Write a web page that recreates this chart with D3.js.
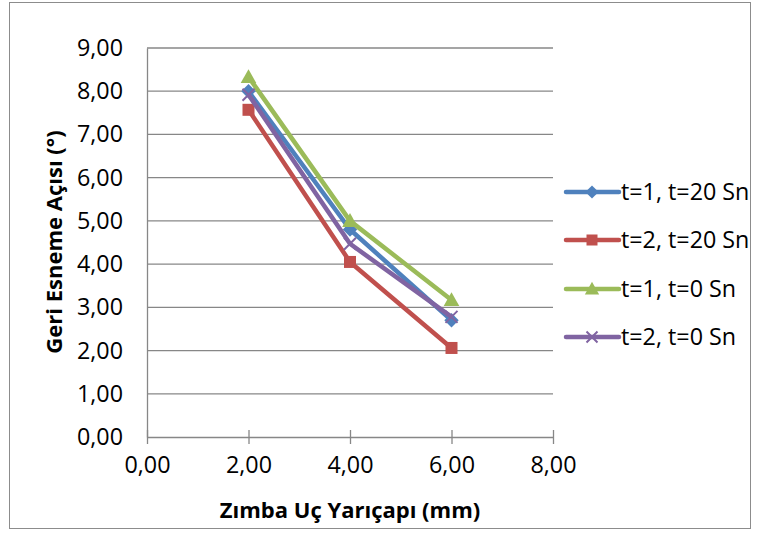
<!DOCTYPE html>
<html>
<head>
<meta charset="utf-8">
<script src="https://cdn.jsdelivr.net/npm/d3@7/dist/d3.min.js"></script>
<style>
  body { margin: 0; background: #fff; }
  svg { display: block; }
  svg text { font-family: "Open Sans", Lato, sans-serif; }
</style>
</head>
<body>
<svg id="chart" width="760" height="534"></svg>
<script>
// Punch tip radius (mm) and springback angle (°) per test condition
const radii = [2, 4, 6];
const seriesNames = ["t=1, t=20 Sn", "t=2, t=20 Sn", "t=1, t=0 Sn", "t=2, t=0 Sn"];
const s1 = [8.00, 4.80, 2.70];
const s2 = [7.57, 4.05, 2.06];
const s3 = [8.33, 5.00, 3.17];
const s4 = [7.92, 4.47, 2.78];
const xTicks = [0, 2, 4, 6, 8];
const yTicks = [0, 1, 2, 3, 4, 5, 6, 7, 8, 9];

const colors = ["#4F81BD", "#C0504D", "#9BBB59", "#8064A2"];
const markers = ["diamond", "square", "triangle", "cross"];
const seriesValues = [s1, s2, s3, s4];

const svg = d3.select("#chart");
const fmt = v => d3.format(".2f")(v).replace(".", ",");
const FS = 23.3;
const TS = 22;

// Chart frame
svg.append("rect").attr("x", 9.5).attr("y", 2.5).attr("width", 741).attr("height", 526)
  .attr("fill", "#fff").attr("stroke", "#8c8c8c").attr("stroke-width", 1);

const x = d3.scaleLinear().domain([0, 8]).range([147, 553]);
const y = d3.scaleLinear().domain([0, 9]).range([437, 48]);

// Horizontal gridlines
svg.append("g").selectAll("line").data(yTicks.filter(d => d > 0)).join("line")
  .attr("x1", x(0)).attr("x2", x(8))
  .attr("y1", d => y(d)).attr("y2", d => y(d))
  .attr("stroke", "#878787").attr("stroke-width", 1.3);

// Y axis
const yAxis = d3.axisLeft(y).tickValues(yTicks).tickFormat(fmt).tickSize(0).tickPadding(24);
const gy = svg.append("g").attr("transform", `translate(${x(0)},0)`).call(yAxis)
  .attr("font-family", null).attr("font-size", null);
gy.select(".domain").attr("stroke", "#878787").attr("stroke-width", 1.3);
gy.selectAll("text").attr("font-size", FS).attr("fill", "#000");

// X axis
const xAxis = d3.axisBottom(x).tickValues(xTicks).tickFormat(fmt).tickSize(7).tickSizeOuter(0).tickPadding(12);
const gx = svg.append("g").attr("transform", `translate(0,${y(0)})`).call(xAxis)
  .attr("font-family", null).attr("font-size", null);
gx.select(".domain").attr("stroke", "#878787").attr("stroke-width", 1.3);
gx.selectAll(".tick line").attr("stroke", "#878787").attr("stroke-width", 1.3)
  .attr("y1", -7).attr("y2", 7);
gx.selectAll("text").attr("font-size", FS).attr("fill", "#000");

// Axis titles
svg.append("text").attr("x", 350).attr("y", 518).attr("text-anchor", "middle")
  .attr("font-size", TS).attr("font-weight", "bold").text("Zımba Uç Yarıçapı (mm)");
svg.append("text").attr("transform", "translate(62,242) rotate(-90)").attr("text-anchor", "middle")
  .attr("font-size", TS).attr("font-weight", "bold").text("Geri Esneme Açısı (°)");

// Marker shapes
function drawMarker(g, type, cx, cy, color, size) {
  const s = size;
  if (type === "diamond") {
    g.append("path").attr("d", `M${cx},${cy - s * 0.6}L${cx + s * 0.6},${cy}L${cx},${cy + s * 0.6}L${cx - s * 0.6},${cy}Z`)
      .attr("fill", color);
  } else if (type === "square") {
    g.append("rect").attr("x", cx - s / 2).attr("y", cy - s / 2).attr("width", s).attr("height", s)
      .attr("fill", color);
  } else if (type === "triangle") {
    g.append("path").attr("d", `M${cx},${cy - s * 0.65}L${cx + s * 0.65},${cy + s * 0.5}L${cx - s * 0.65},${cy + s * 0.5}Z`)
      .attr("fill", color);
  } else if (type === "cross") {
    const h = s * 0.5;
    g.append("path").attr("d", `M${cx - h},${cy - h}L${cx + h},${cy + h}M${cx - h},${cy + h}L${cx + h},${cy - h}`)
      .attr("stroke", color).attr("stroke-width", 2);
  }
}

const line = d3.line().x(d => x(d[0])).y(d => y(d[1]));

seriesValues.forEach((vals, i) => {
  const pts = radii.map((r, j) => [r, vals[j]]);
  const g = svg.append("g");
  g.append("path").datum(pts).attr("d", line).attr("fill", "none")
    .attr("stroke", colors[i]).attr("stroke-width", 4.5).attr("stroke-linejoin", "round");
  pts.forEach(p => drawMarker(g, markers[i], x(p[0]), y(p[1]), colors[i], 12));
});

// Legend
const legendY = [192, 240, 289, 337];
seriesNames.forEach((name, i) => {
  const g = svg.append("g");
  g.append("line").attr("x1", 566).attr("x2", 619).attr("y1", legendY[i]).attr("y2", legendY[i])
    .attr("stroke", colors[i]).attr("stroke-width", 4.5).attr("stroke-linecap", "round");
  drawMarker(g, markers[i], 592, legendY[i], colors[i], 11);
  g.append("text").attr("x", 621).attr("y", legendY[i]).attr("dy", "0.35em")
    .attr("font-size", FS).attr("fill", "#000").text(name);
});
</script>
</body>
</html>
